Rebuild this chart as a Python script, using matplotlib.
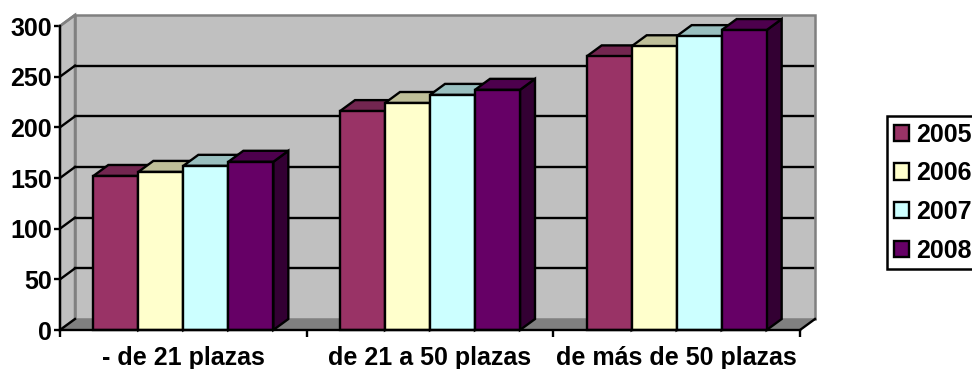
import matplotlib
matplotlib.use("Agg")
import matplotlib.pyplot as plt
from matplotlib.patches import Polygon, Patch
from matplotlib.transforms import Affine2D

plt.rcParams['font.family'] = ['Liberation Sans', 'DejaVu Sans']

categories = ['- de 21 plazas', 'de 21 a 50 plazas', 'de más de 50 plazas']
years = ['2005', '2006', '2007', '2008']
v2005 = [152, 216, 270]
v2006 = [156, 224, 280]
v2007 = [162, 232, 290]
v2008 = [166, 237, 296]
series = [v2005, v2006, v2007, v2008]
front = ['#993366', '#FFFFCC', '#CCFFFF', '#660066']
top = ['#732650', '#BFBF99', '#99BFBF', '#4D004D']
side = ['#4D1A33', '#808066', '#668080', '#330033']
yticks = [0, 50, 100, 150, 200, 250, 300]

W, H = 972, 369
fig = plt.figure(figsize=(W / 100, H / 100), dpi=100, facecolor='white')
L, R, T, B = 60, 800, 26, 330
ax = fig.add_axes([L / W, 1 - B / H, (R - L) / W, (B - T) / H])
ax.set_xlim(-0.5, 2.5)
ax.set_ylim(0, 300)
ax.patch.set_visible(False)

px = 3 / (R - L)      # data x per pixel
py = 300 / (B - T)    # data y per pixel
dx, dy = 15 * px, 11 * py
LW = 1.7
FS = 18
GREY = '#808080'
x0, x1 = -0.5, 2.5
ymax = 300

# walls and floor
ax.add_patch(Polygon([(x0 + dx, dy), (x1 + dx, dy), (x1 + dx, ymax + dy), (x0 + dx, ymax + dy)],
                     fc='#C0C0C0', ec=GREY, lw=1.8, clip_on=False, zorder=1))
ax.add_patch(Polygon([(x0, 0), (x0 + dx, dy), (x0 + dx, ymax + dy), (x0, ymax)],
                     fc='#C0C0C0', ec=GREY, lw=1.8, clip_on=False, zorder=1))
ax.add_patch(Polygon([(x0, 0), (x1, 0), (x1 + dx, dy), (x0 + dx, dy)],
                     fc=GREY, ec='none', clip_on=False, zorder=1.5))
# gridlines on the walls
for t in yticks[1:-1]:
    ax.plot([x0 + dx, x1 + dx - 2 * px], [t + dy, t + dy], color='black', lw=LW, clip_on=False, zorder=2)
for t in yticks[:-1]:
    ax.plot([x0, x0 + dx], [t, t + dy], color='black', lw=LW, clip_on=False, zorder=2)
ax.plot([x0, x0 + dx], [300, 300 + dy], color=GREY, lw=1.8, clip_on=False, zorder=2)
ax.plot([x1, x1 + dx], [0, dy], color='black', lw=LW, clip_on=False, zorder=2)

# bars
bw = 45 * px
start = -2 * bw
z = 3
for c in range(len(categories)):
    for s, vals in enumerate(series):
        xl = c + start + s * bw
        xr = xl + bw
        v = vals[c]
        ax.add_patch(Polygon([(xr, 0), (xr + dx, dy), (xr + dx, v + dy), (xr, v)],
                             fc=side[s], ec='black', lw=LW, clip_on=False, zorder=z))
        ax.add_patch(Polygon([(xl, v), (xr, v), (xr + dx, v + dy), (xl + dx, v + dy)],
                             fc=top[s], ec='black', lw=LW, clip_on=False, zorder=z))
        ax.bar(xl, v, width=bw, align='edge', color=front[s], edgecolor='black', lw=LW,
               clip_on=False, zorder=z + 0.5)
        z += 1

# axes
for sp in ('top', 'right'):
    ax.spines[sp].set_visible(False)
for sp in ('left', 'bottom'):
    ax.spines[sp].set_linewidth(LW)
    ax.spines[sp].set_zorder(100)
ax.set_yticks(yticks)
ax.set_yticklabels([str(t) for t in yticks], fontsize=FS, fontweight='bold')
ax.tick_params(axis='y', length=4, width=LW, pad=2)
ax.set_xticks([0, 1, 2])
ax.set_xticklabels(categories, fontsize=FS, fontweight='bold')
ax.set_xticks([-0.5, 0.5, 1.5, 2.5], minor=True)
ax.tick_params(axis='x', which='major', length=0, pad=11.5)
ax.tick_params(axis='x', which='minor', length=5, width=LW)

# legend
handles = [Patch(facecolor=f, edgecolor='black', lw=LW) for f in front]
pix = Affine2D().scale(1, -1).translate(0, H)
leg = ax.legend(handles, years, loc='upper left', bbox_to_anchor=(887, 116), bbox_transform=pix,
                borderaxespad=0, fancybox=False, framealpha=1, edgecolor='black',
                prop={'size': FS, 'weight': 'bold'}, handlelength=0.62, handleheight=0.62,
                handletextpad=0.28, labelspacing=0.59, borderpad=0.26)
leg.get_frame().set_linewidth(1.8)
leg.set_zorder(200)
fig.savefig('out.png', dpi=100)
